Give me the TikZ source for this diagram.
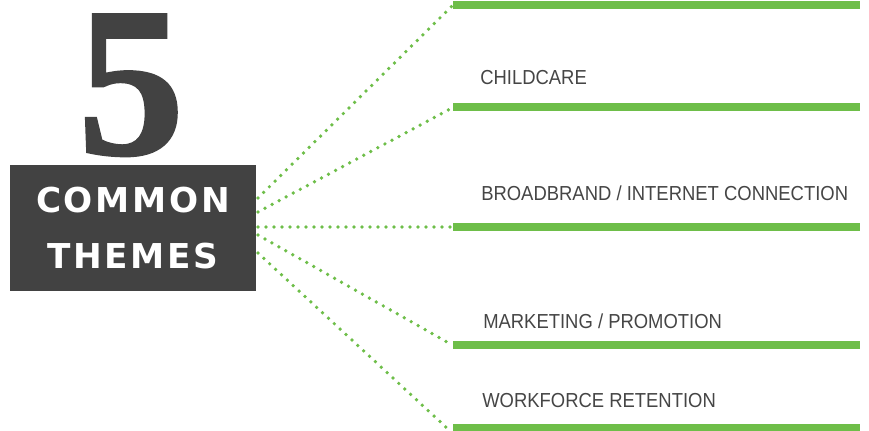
\documentclass[tikz,border=0pt]{standalone}
\usepackage{fontspec}
\setmainfont{Liberation Sans}
\newfontfamily\labelfont[FakeStretch=0.91]{Liberation Sans}
\newfontfamily\numfont[BoldFeatures={FakeBold=1.2}]{Liberation Serif}
\newfontfamily\themefont[LetterSpace=8]{DejaVu Sans}
\definecolor{themegreen}{HTML}{6EBE49}
\definecolor{themegray}{HTML}{424242}
\definecolor{labelgray}{HTML}{454545}
\tikzset{
  dotline/.style={themegreen, line width=2.8pt, line cap=round, dash pattern=on 0pt off 6pt},
  greenbar/.style={themegreen, line width=6pt},
  themelabel/.style={anchor=base west, inner sep=0pt, text=labelgray, font=\labelfont\fontsize{15.2}{18}\selectfont}
}
\begin{document}
\begin{tikzpicture}[x=0.75pt, y=-0.75pt]
    \useasboundingbox (0,0) rectangle (869,431);

    % Numero grande
    \node[anchor=base, inner sep=0pt, text=themegray, font=\numfont\bfseries\fontsize{160}{160}\selectfont] (five) at (131,154) {5};

    % Caja de temas
    \node[fill=themegray, text=white, minimum width=184.5pt, minimum height=94.5pt, inner sep=0pt, align=center,
          font=\themefont\bfseries\fontsize{25.7}{42}\selectfont] (themes) at (133,228) {COMMON\\THEMES};

    % Barras verdes
    \foreach \y [count=\i] in {5.5,107,227,345,428.5} {
        \coordinate (b\i w) at (453,\y);
        \coordinate (b\i e) at (860,\y);
        \draw[greenbar] (b\i w) -- (b\i e);
    }

    % Lineas punteadas
    \foreach \sy/\ex/\ey [count=\i] in {198/452/6, 212/452/108, 227/452/227, 235/447/342, 253/448/429} {
        \coordinate (s\i) at (258,\sy);
        \coordinate (e\i) at (\ex,\ey);
        \draw[dotline] (s\i) -- (e\i);
    }

    % Etiquetas
    \node[themelabel] (childcare) at (480,85) {CHILDCARE};
    \node[themelabel] (broadband) at (481,201) {BROADBRAND / INTERNET CONNECTION};
    \node[themelabel] (marketing) at (483,329) {MARKETING / PROMOTION};
    \node[themelabel] (workforce) at (482,407) {WORKFORCE RETENTION};
\end{tikzpicture}
\end{document}
